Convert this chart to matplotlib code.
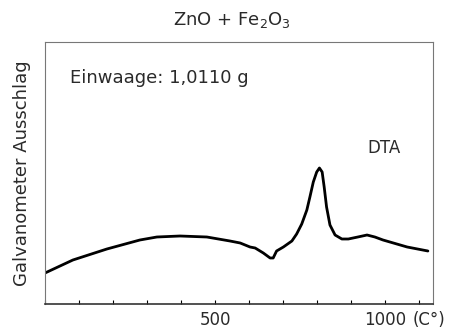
import numpy as np
import matplotlib.pyplot as plt
from matplotlib.ticker import MultipleLocator

# DTA curve (temperature in C, deflection in arbitrary units)
temp = [0, 82, 182, 279, 329, 397, 476, 544, 574, 603, 618, 642, 662, 671,
        681, 701, 726, 740, 755, 770, 779, 789, 799, 807, 815, 821, 828,
        838, 853, 873, 892, 920, 947, 970, 994, 1065, 1126]
deflection = [31, 44, 55, 64, 67, 68, 67, 63, 61, 57, 56, 51, 46, 46,
              53, 57, 63, 70, 80, 94, 107, 122, 132, 136, 132, 117, 97,
              79, 69, 65, 65, 67, 69, 67, 64, 57, 53]

x_ticks = [500, 1000]
x_ticklabels = ["500", "1000"]

plt.rcParams["font.family"] = ["DejaVu Sans"]
txt_color = "#2a2a2a"

fig = plt.figure(figsize=(4.51, 3.32), dpi=100)
ax = fig.add_axes([45 / 451, 28 / 332, 388 / 451, 262 / 332])

ax.plot(temp, deflection, color="black", lw=2.0, solid_joinstyle="round",
        solid_capstyle="round")

ax.set_xlim(0, 1141)
ax.set_ylim(0, 262)
ax.set_xticks(x_ticks)
ax.set_xticklabels(x_ticklabels, fontsize=12, color=txt_color)
ax.xaxis.set_minor_locator(MultipleLocator(100))
ax.tick_params(axis="x", which="both", direction="in", length=3, width=0.8, pad=5)
ax.set_yticks([])

for side in ["top", "left", "right"]:
    ax.spines[side].set_color("#777777")
    ax.spines[side].set_linewidth(0.8)
    ax.spines[side].set_linestyle((0, (2, 1)))
ax.spines["bottom"].set_color("#333333")
ax.spines["bottom"].set_linewidth(1.2)

ax.text(1082, -0.025, "(C°)", transform=ax.get_xaxis_transform(), fontsize=12,
        color=txt_color, ha="left", va="top")

ax.set_ylabel("Galvanometer Ausschlag", fontsize=13, color=txt_color, labelpad=10)
fig.text(232 / 451, 1 - 20 / 332, r"ZnO + Fe$_2$O$_3$", fontsize=13,
         ha="center", va="center", color=txt_color)

ax.text(0.065, 0.863, "Einwaage: 1,0110 g", transform=ax.transAxes, fontsize=13,
        color=txt_color, ha="left", va="center")
ax.text(0.832, 0.595, "DTA", transform=ax.transAxes, fontsize=12,
        color=txt_color, ha="left", va="center")

fig.savefig("out.png", dpi=100)
